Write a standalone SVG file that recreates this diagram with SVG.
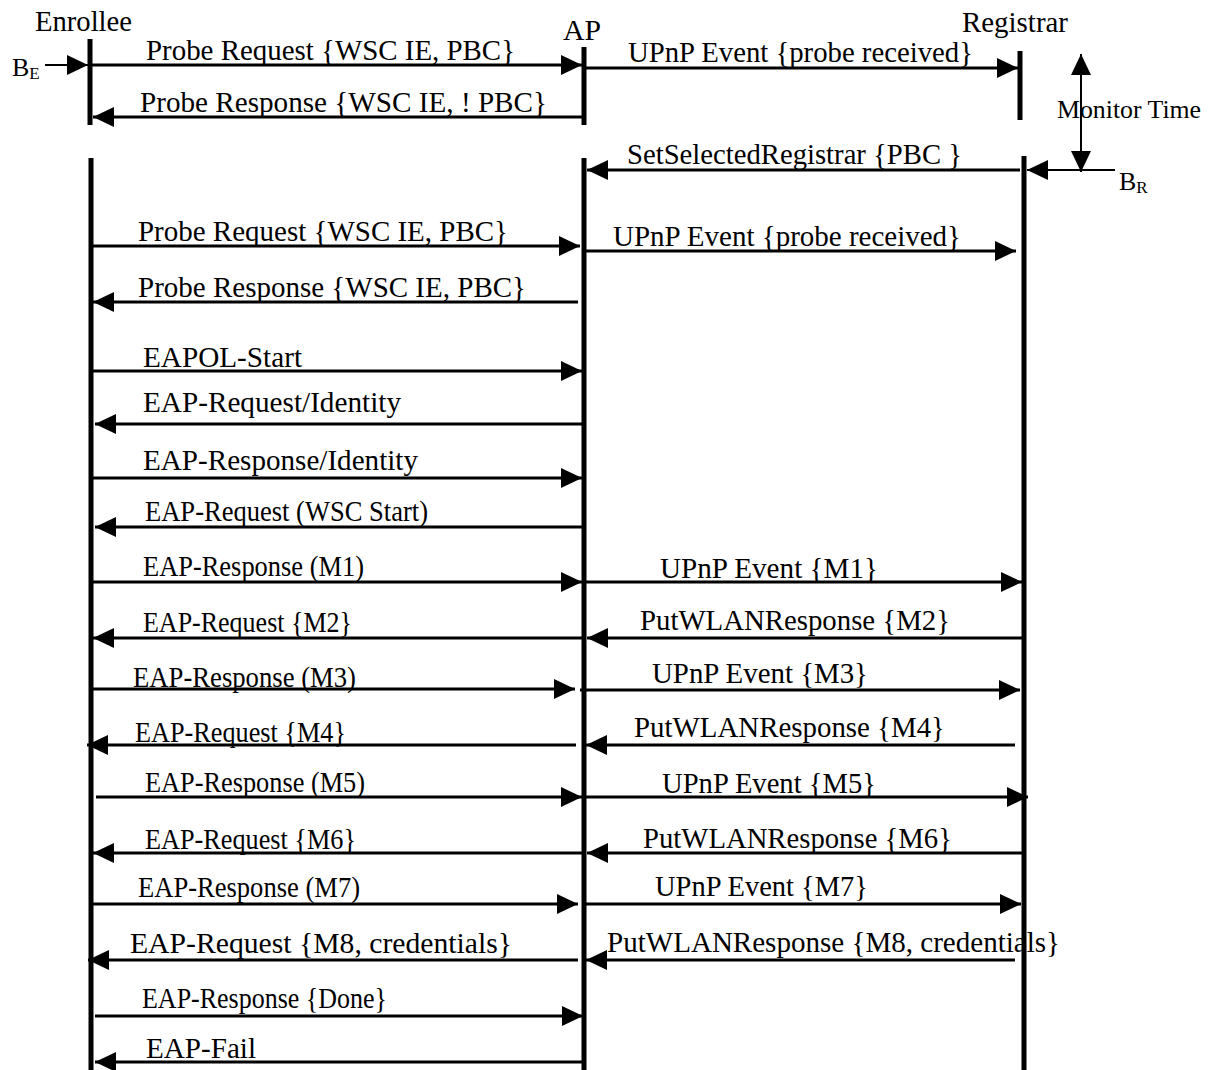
<svg xmlns="http://www.w3.org/2000/svg" width="1214" height="1070" viewBox="0 0 1214 1070">
  <defs>
    <style>
      text { font-family: "Liberation Serif", "Times New Roman", serif; font-size: 29px; fill: #000; }
      .sub { font-size: 17px; }
      .life { stroke: #000; stroke-width: 5; fill: none; }
      .msg { stroke: #000; stroke-width: 3; fill: none; marker-end: url(#ah); }
      .thin { stroke: #000; stroke-width: 2; fill: none; }
    </style>
    <marker id="ah" viewBox="0 0 21 20" refX="21" refY="10" markerWidth="21" markerHeight="20" orient="auto-start-reverse" markerUnits="userSpaceOnUse">
      <path d="M0,0 L21,10 L0,20 z" fill="#000"/>
    </marker>
  </defs>
  <rect width="1214" height="1070" fill="#fff"/>

  <!-- participants -->
  <g id="enrollee">
    <text x="35" y="31" textLength="97" lengthAdjust="spacingAndGlyphs">Enrollee</text>
    <line class="life" x1="90" y1="39" x2="90" y2="125"/>
    <line class="life" x1="91" y1="158" x2="91" y2="1070"/>
  </g>
  <g id="ap">
    <text x="563" y="40" textLength="38" lengthAdjust="spacingAndGlyphs">AP</text>
    <line class="life" x1="584" y1="47" x2="584" y2="125"/>
    <line class="life" x1="584" y1="158" x2="584" y2="1070"/>
  </g>
  <g id="registrar">
    <text x="962" y="32" textLength="106" lengthAdjust="spacingAndGlyphs">Registrar</text>
    <line class="life" x1="1020" y1="51" x2="1020" y2="120"/>
    <line class="life" x1="1024" y1="156" x2="1024" y2="1070"/>
  </g>

  <!-- button presses and monitor window -->
  <g id="button-enrollee">
    <text x="12" y="76" style="font-size:26px">B<tspan class="sub" dy="3">E</tspan></text>
  </g>
  <g id="button-registrar">
    <text x="1119" y="190" style="font-size:26px">B<tspan class="sub" dy="3">R</tspan></text>
  </g>
  <g id="monitor-time">
    <text x="1057" y="118" style="font-size:25.8px">Monitor Time</text>
  </g>

  <!-- messages -->
  <g id="connectors">
    <line class="thin" x1="45" y1="65" x2="88" y2="65" style="marker-end:url(#ah)"/>
    <line class="msg" x1="90" y1="65" x2="582" y2="65"/>
    <line class="msg" x1="584" y1="68" x2="1018" y2="68"/>
    <line class="msg" x1="584" y1="117" x2="93" y2="117"/>
    <line class="msg" x1="1020" y1="170" x2="587" y2="170"/>
    <line class="thin" x1="1115" y1="170" x2="1027" y2="170" style="marker-end:url(#ah)"/>
    <line class="thin" x1="1081" y1="54" x2="1081" y2="172" style="marker-start:url(#ah);marker-end:url(#ah)"/>

    <line class="msg" x1="93" y1="246" x2="580" y2="246"/>
    <line class="msg" x1="586" y1="251" x2="1016" y2="251"/>
    <line class="msg" x1="578" y1="302" x2="93" y2="302"/>
    <line class="msg" x1="93" y1="371" x2="582" y2="371"/>
    <line class="msg" x1="582" y1="424" x2="95" y2="424"/>
    <line class="msg" x1="93" y1="478" x2="582" y2="478"/>
    <line class="msg" x1="582" y1="527" x2="95" y2="527"/>
    <line class="msg" x1="93" y1="582" x2="582" y2="582"/>
    <line class="msg" x1="586" y1="582" x2="1022" y2="582"/>
    <line class="msg" x1="584" y1="638" x2="93" y2="638"/>
    <line class="msg" x1="1022" y1="638" x2="587" y2="638"/>
    <line class="msg" x1="92" y1="689" x2="575" y2="689"/>
    <line class="msg" x1="580" y1="690" x2="1020" y2="690"/>
    <line class="msg" x1="576" y1="745" x2="87" y2="745"/>
    <line class="msg" x1="1015" y1="745" x2="586" y2="745"/>
    <line class="msg" x1="96" y1="797" x2="582" y2="797"/>
    <line class="msg" x1="586" y1="797" x2="1028" y2="797"/>
    <line class="msg" x1="584" y1="853" x2="93" y2="853"/>
    <line class="msg" x1="1022" y1="853" x2="587" y2="853"/>
    <line class="msg" x1="92" y1="904" x2="578" y2="904"/>
    <line class="msg" x1="582" y1="904" x2="1021" y2="904"/>
    <line class="msg" x1="578" y1="960" x2="88" y2="960"/>
    <line class="msg" x1="1015" y1="960" x2="586" y2="960"/>
    <line class="msg" x1="95" y1="1016" x2="583" y2="1016"/>
    <line class="msg" x1="582" y1="1062" x2="95" y2="1062"/>
  </g>

  <!-- message labels -->
  <g id="labels">
    <text x="146" y="60" textLength="369" lengthAdjust="spacingAndGlyphs">Probe Request {WSC IE, PBC}</text>
    <text x="628" y="62" textLength="345" lengthAdjust="spacingAndGlyphs">UPnP Event {probe received}</text>
    <text x="140" y="112" textLength="407" lengthAdjust="spacingAndGlyphs">Probe Response {WSC IE, ! PBC}</text>
    <text x="627" y="164" textLength="335" lengthAdjust="spacingAndGlyphs">SetSelectedRegistrar {PBC }</text>

    <text x="138" y="241" textLength="370" lengthAdjust="spacingAndGlyphs">Probe Request {WSC IE, PBC}</text>
    <text x="613" y="246" textLength="348" lengthAdjust="spacingAndGlyphs">UPnP Event {probe received}</text>
    <text x="138" y="297" textLength="388" lengthAdjust="spacingAndGlyphs">Probe Response {WSC IE, PBC}</text>
    <text x="143" y="367" textLength="159" lengthAdjust="spacingAndGlyphs">EAPOL-Start</text>
    <text x="143" y="412" textLength="258" lengthAdjust="spacingAndGlyphs">EAP-Request/Identity</text>
    <text x="143" y="470" textLength="275" lengthAdjust="spacingAndGlyphs">EAP-Response/Identity</text>
    <text x="145" y="521" textLength="283" lengthAdjust="spacingAndGlyphs">EAP-Request (WSC Start)</text>
    <text x="143" y="576" textLength="221" lengthAdjust="spacingAndGlyphs">EAP-Response (M1)</text>
    <text x="660" y="578" textLength="218" lengthAdjust="spacingAndGlyphs">UPnP Event {M1}</text>
    <text x="143" y="632" textLength="209" lengthAdjust="spacingAndGlyphs">EAP-Request {M2}</text>
    <text x="640" y="630" textLength="310" lengthAdjust="spacingAndGlyphs">PutWLANResponse {M2}</text>
    <text x="133" y="687" textLength="223" lengthAdjust="spacingAndGlyphs">EAP-Response (M3)</text>
    <text x="652" y="683" textLength="216" lengthAdjust="spacingAndGlyphs">UPnP Event {M3}</text>
    <text x="135" y="742" textLength="211" lengthAdjust="spacingAndGlyphs">EAP-Request {M4}</text>
    <text x="634" y="737" textLength="311" lengthAdjust="spacingAndGlyphs">PutWLANResponse {M4}</text>
    <text x="145" y="792" textLength="220" lengthAdjust="spacingAndGlyphs">EAP-Response (M5)</text>
    <text x="662" y="793" textLength="214" lengthAdjust="spacingAndGlyphs">UPnP Event {M5}</text>
    <text x="145" y="849" textLength="211" lengthAdjust="spacingAndGlyphs">EAP-Request {M6}</text>
    <text x="643" y="848" textLength="309" lengthAdjust="spacingAndGlyphs">PutWLANResponse {M6}</text>
    <text x="138" y="897" textLength="222" lengthAdjust="spacingAndGlyphs">EAP-Response (M7)</text>
    <text x="655" y="896" textLength="213" lengthAdjust="spacingAndGlyphs">UPnP Event {M7}</text>
    <text x="130" y="953" textLength="382" lengthAdjust="spacingAndGlyphs">EAP-Request {M8, credentials}</text>
    <text x="607" y="952" textLength="453" lengthAdjust="spacingAndGlyphs">PutWLANResponse {M8, credentials}</text>
    <text x="142" y="1008" textLength="245" lengthAdjust="spacingAndGlyphs">EAP-Response {Done}</text>
    <text x="146" y="1058" textLength="110" lengthAdjust="spacingAndGlyphs">EAP-Fail</text>
  </g>
</svg>
